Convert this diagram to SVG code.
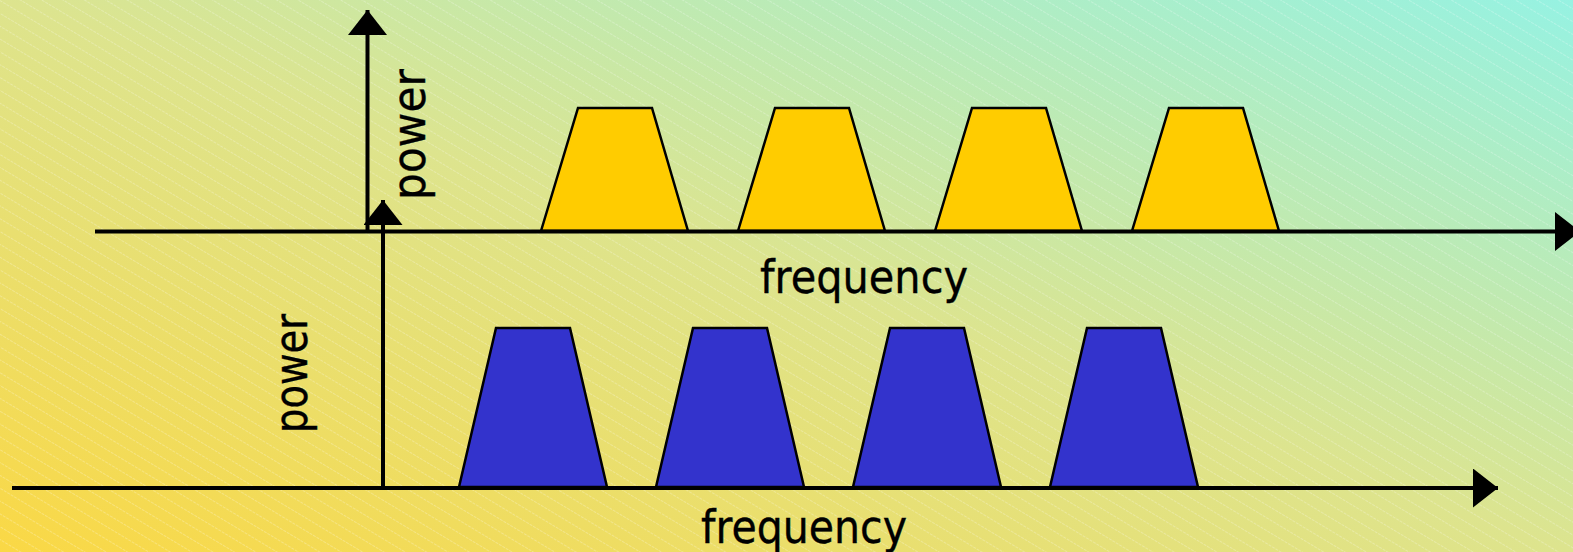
<svg xmlns="http://www.w3.org/2000/svg" width="1573" height="552" viewBox="0 0 1573 552">
  <defs>
    <linearGradient id="bg" x1="0" y1="1" x2="1" y2="0">
      <stop offset="0" stop-color="#FAD845"/>
      <stop offset="0.5" stop-color="#DDE48E"/>
      <stop offset="1" stop-color="#96F2E2"/>
    </linearGradient>
    <pattern id="hatch" patternUnits="userSpaceOnUse" width="200" height="11" patternTransform="rotate(31)">
      <line x1="0" y1="0.5" x2="200" y2="0.5" stroke="#FFFFFF" stroke-opacity="0.25" stroke-width="1" stroke-dasharray="3 1"/>
    </pattern>
    <marker id="arrow" markerUnits="userSpaceOnUse" markerWidth="26" markerHeight="40" refX="25" refY="19.5" orient="auto" viewBox="0 0 26 40">
      <path d="M0,0 L25,19.5 L0,39 Z" fill="#000000"/>
    </marker>
    <style>
      .axis { stroke: #000000; stroke-width: 4; fill: none; }
      .yel { fill: #FFCC00; stroke: #000000; stroke-width: 2.5; stroke-linejoin: miter; }
      .blu { fill: #3333CC; stroke: #000000; stroke-width: 2.5; stroke-linejoin: miter; }
      .lbl { font-family: "DejaVu Sans", "Liberation Sans", sans-serif; font-size: 47px; fill: #000000; stroke: #000000; stroke-width: 0.4; }
    </style>
  </defs>
  <rect x="0" y="0" width="1573" height="552" fill="url(#bg)"/>
  <rect x="0" y="0" width="1573" height="552" fill="url(#hatch)"/>

  <g id="top-bands">
    <polygon class="yel" points="541,231 578,108 652,108 688,231"/>
    <polygon class="yel" points="738,231 775,108 849,108 885,231"/>
    <polygon class="yel" points="935,231 972,108 1046,108 1082,231"/>
    <polygon class="yel" points="1132,231 1169,108 1243,108 1279,231"/>
  </g>
  <g id="bottom-bands">
    <polygon class="blu" points="459,487 496,328 570,328 607,487"/>
    <polygon class="blu" points="656,487 693,328 767,328 804,487"/>
    <polygon class="blu" points="853,487 890,328 964,328 1001,487"/>
    <polygon class="blu" points="1050,487 1087,328 1161,328 1198,487"/>
  </g>

  <g id="connectors">
    <line class="axis" x1="95" y1="231.5" x2="1580" y2="231.5" marker-end="url(#arrow)"/>
    <line class="axis" x1="367.5" y1="232" x2="367.5" y2="10" marker-end="url(#arrow)" stroke-width="3.5"/>
    <line class="axis" x1="12" y1="488" x2="1498" y2="488" marker-end="url(#arrow)"/>
    <line class="axis" x1="383" y1="489" x2="383" y2="200" marker-end="url(#arrow)" stroke-width="3.5"/>
  </g>

  <g id="labels">
    <text class="lbl" x="760" y="293" textLength="208" lengthAdjust="spacingAndGlyphs">frequency</text>
    <text class="lbl" x="701" y="543" textLength="206" lengthAdjust="spacingAndGlyphs">frequency</text>
    <text class="lbl" transform="translate(425,200) rotate(-90)" x="0" y="0" textLength="131" lengthAdjust="spacingAndGlyphs">power</text>
    <text class="lbl" transform="translate(307,433) rotate(-90)" x="0" y="0" textLength="119" lengthAdjust="spacingAndGlyphs">power</text>
  </g>
</svg>
